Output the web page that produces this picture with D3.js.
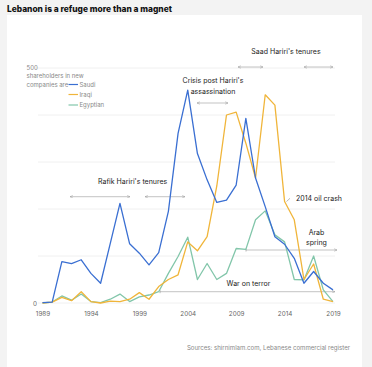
<!DOCTYPE html>
<html><head><meta charset="utf-8">
<script src="https://cdn.jsdelivr.net/npm/d3@7"></script>
<style>
html,body{margin:0;padding:0;background:#f3f3f3;}
svg{display:block;font-family:Inter,"Noto Sans",sans-serif;}
</style></head>
<body><svg id="c" width="372" height="367"></svg>
<script>
const years = d3.range(1989, 2020);
const saudi = [1,2,88,84,92,63,42,127,212,126,106,81,107,195,361,453,318,262,214,219,251,393,266,205,141,125,95,42,67,42,28];
const iraqi = [0,2,12,5,24,3,0,4,3,8,22,8,35,50,60,130,111,141,249,400,406,340,266,443,421,216,177,50,83,8,3];
const egyptian = [0,2,15,6,19,3,1,8,19,3,13,17,24,63,99,140,50,84,50,63,116,114,177,196,145,130,50,49,100,28,3];
const seriesNames = ["Saudi","Iraqi","Egyptian"];
const colors = ["#3a6fd2","#f0b53a","#82c6aa"];
const yTicks = [0,100,200,300,400,500];
const xTicks = [1989,1994,1999,2004,2009,2014,2019];

const svg = d3.select("#c");
svg.append("rect").attr("x",7).attr("y",15).attr("width",355).attr("height",352).attr("fill","#fff");
svg.append("text").attr("x",7).attr("y",11.5).attr("font-size",8.4).attr("font-weight",800)
  .attr("fill","#111").text("Lebanon is a refuge more than a magnet");

const x = d3.scaleLinear().domain([1989,2019]).range([42.5,333]);
const y = d3.scaleLinear().domain([0,500]).range([303,68]);

// grid
svg.append("g").selectAll("line").data(yTicks).join("line")
  .attr("x1",d=> d===500?36:38).attr("x2",335).attr("y1",d=>y(d)).attr("y2",d=>y(d))
  .attr("stroke","#ececec").attr("stroke-width",0.8);

// x axis
const xa = svg.append("g").attr("transform","translate(0,309)")
  .call(d3.axisBottom(x).tickValues(xTicks).tickFormat(d3.format("d")).tickSize(0));
xa.select(".domain").remove();
xa.selectAll("text").attr("font-size",6.3).attr("fill","#666").attr("font-family","Inter,sans-serif");

svg.append("text").attr("x",37).attr("y",306).attr("text-anchor","end").attr("font-size",6.3).attr("fill","#666").text("0");

// legend
const lg = svg.append("g").attr("font-size",6).attr("fill","#888");
lg.append("text").attr("x",26.5).attr("y",70).text("500");
lg.append("text").attr("x",26.5).attr("y",77.5).text("shareholders in new");
lg.append("text").attr("x",26.5).attr("y",87).text("companies are");
const legY = [84.5,94.5,105];
seriesNames.forEach((n,i)=>{
  lg.append("line").attr("x1",68.5).attr("x2",78).attr("y1",legY[i]).attr("y2",legY[i]).attr("stroke",colors[i]).attr("stroke-width",1.2);
  lg.append("text").attr("x",79.5).attr("y",legY[i]+2.3).text(n);
});

// annotations
const ann = svg.append("g").attr("font-size",7).attr("fill","#222").attr("text-anchor","middle");
ann.append("text").attr("x",286).attr("y",53.5).text("Saad Hariri's tenures");
ann.append("text").attr("x",213).attr("y",83).text("Crisis post Hariri's");
ann.append("text").attr("x",213).attr("y",93.5).text("assassination");
ann.append("text").attr("x",132.7).attr("y",183.5).text("Rafik Hariri's tenures");
ann.append("text").attr("x",296).attr("y",200.5).attr("text-anchor","start").text("2014 oil crash");
ann.append("text").attr("x",316.5).attr("y",234.5).text("Arab");
ann.append("text").attr("x",316.5).attr("y",244.5).text("spring");
ann.append("text").attr("x",248.5).attr("y",285.5).text("War on terror");

const defs = svg.append("defs");
defs.append("marker").attr("id","ah").attr("viewBox","0 0 6 6").attr("refX",5.5).attr("refY",3)
  .attr("markerWidth",5).attr("markerHeight",5).attr("orient","auto-start-reverse")
  .append("path").attr("d","M0.5,0.8 L5.5,3 L0.5,5.2").attr("fill","none").attr("stroke","#999").attr("stroke-width",0.8);

const arrows = [
  [238,263,67,true],[304,333,67,true],
  [197,228,103,true],
  [70,130,196.7,true],[145,185,196.7,true],
  [246,337,250,false],[160,335,291.7,false]
];
const ag = svg.append("g");
arrows.forEach(a=>{
  const l = ag.append("line").attr("x1",a[0]).attr("x2",a[1]).attr("y1",a[2]).attr("y2",a[2])
    .attr("stroke","#aaa").attr("stroke-width",0.7).attr("marker-end","url(#ah)");
  if(a[3]) l.attr("marker-start","url(#ah)");
  else ag.append("line").attr("x1",a[0]).attr("x2",a[0]).attr("y1",a[2]-1.5).attr("y2",a[2]+1.5).attr("stroke","#999").attr("stroke-width",0.7);
});
ag.append("line").attr("x1",290).attr("y1",198.3).attr("x2",286.5).attr("y2",201.5).attr("stroke","#999").attr("stroke-width",0.7);

// lines
const line = d3.line().x((d,i)=>x(years[i])).y(d=>y(d));
const data = [egyptian, iraqi, saudi];
const cols = [colors[2],colors[1],colors[0]];
svg.append("g").selectAll("path").data(data).join("path")
  .attr("d",d=>line(d)).attr("fill","none").attr("stroke",(d,i)=>cols[i]).attr("stroke-width",1.3)
  .attr("stroke-linejoin","round");

svg.append("text").attr("x",350).attr("y",349.5).attr("text-anchor","end").attr("font-size",6.1).attr("fill","#888")
  .text("Sources: shirnimlam.com, Lebanese commercial register");
</script></body></html>
